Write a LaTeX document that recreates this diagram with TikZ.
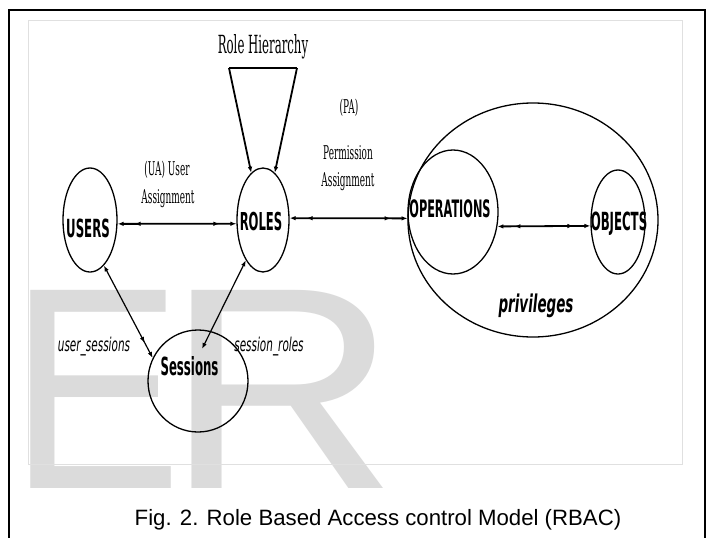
\documentclass[tikz,border=0pt]{standalone}
\usepackage{fontspec}
\setmainfont{Liberation Sans}
\newfontfamily\sanscond[FakeStretch=0.47]{DejaVu Sans}
\newfontfamily\itcond[FakeStretch=0.55]{DejaVu Sans}
\newfontfamily\serifcond[FakeStretch=0.47]{DejaVu Serif}
\usetikzlibrary{shapes.geometric,arrows.meta,calc}
\tikzset{
  stip/.tip={Latex[length=6pt,width=4.5pt]},
  dbl/.tip={Latex[length=6pt,width=4.5pt,sep=11pt]Latex[length=6pt,width=4.5pt]},
}
\begin{document}
\begin{tikzpicture}[x=1pt,y=-1pt,
  ell/.style={draw, ellipse, line width=1.3pt, inner sep=0pt},
  lab/.style={font=\sanscond\bfseries\fontsize{25}{25}\selectfont, inner sep=0pt, anchor=base},
  ser/.style={font=\serifcond\fontsize{19}{19}\selectfont, inner sep=0pt, anchor=base},
  ital/.style={font=\itcond\itshape\fontsize{19}{19}\selectfont, inner sep=0pt, anchor=base},
  wmark/.style={font=\fontsize{288}{288}\selectfont, text=black!14, anchor=base west, inner sep=0pt},
  conn/.style={line width=1.8pt},
  thinconn/.style={line width=1.2pt}]
\useasboundingbox (0,0) rectangle (710,538);
\fill[white] (0,0) rectangle (710,538);
% watermark
\node[wmark, xscale=0.9] (wme) at (9,488) {E};
\node[wmark, xscale=1.12] (wmr) at (165,488) {R};
% frames
\draw[black!12, line width=1pt] (28,20) rectangle (682,464);
\draw[line width=2pt] (9,538) -- (9,10) -- (705,10) -- (705,538);
% nodes
\node[ell, minimum width=54pt, minimum height=104pt] (users) at (90,220) {};
\node[ell, minimum width=52pt, minimum height=104pt] (roles) at (263,220) {};
\node[ell, minimum width=100pt, minimum height=102pt] (sessions) at (198,381) {};
\node[ell, minimum width=250pt, minimum height=234pt] (privs) at (533,220) {};
\node[ell, minimum width=90pt, minimum height=124pt] (ops) at (453,212) {};
\node[ell, minimum width=54pt, minimum height=104pt] (objs) at (618,222) {};
\node[lab] (tusers) at (88,237) {USERS};
\node[lab, font=\sanscond\bfseries\fontsize{24.7}{24.7}\selectfont] (troles) at (261,230) {ROLES};
\node[lab, font=\sanscond\bfseries\fontsize{24}{24}\selectfont] (tops) at (450,217) {OPERATIONS};
\node[lab] (tobjs) at (619,230) {OBJECTS};
\node[lab] (tsess) at (189.5,375) {Sessions};
\node[ital, font=\itcond\bfseries\itshape\fontsize{24.5}{24.5}\selectfont] (tpriv) at (536,312) {privileges};
\node[ser, font=\serifcond\fontsize{25}{25}\selectfont] (trh) at (263,53) {Role Hierarchy};
\node[ser] (tua1) at (167,175) {(UA) User};
\node[ser] (tua2) at (168,203) {Assignment};
\node[ser] (tpa0) at (349,113) {(PA)};
\node[ser] (tpa1) at (348,159) {Permission};
\node[ser] (tpa2) at (348,186) {Assignment};
\node[ital] (tus) at (94,351) {user\_sessions};
\node[ital] (tsr) at (269,351) {session\_roles};
% connectors
\coordinate (rhl) at (229,68);
\coordinate (rhr) at (297,68);
\coordinate (srend) at (202,349);
\draw[conn] (rhl) -- (rhr);
\draw[conn,-stip] (rhl) -- (roles.104);
\draw[conn,-stip] (rhr) -- (roles.76);
\draw[conn,dbl-dbl] (users.-8) -- (roles.188);
\draw[conn,dbl-dbl] (roles.4) -- (ops.188);
\draw[conn,dbl-dbl] (ops.-18) -- (objs.188);
\draw[thinconn,stip-dbl] (users.-73) -- (sessions.153);
\draw[thinconn,stip-stip] (roles.-113) -- (srend);
% caption
\node[font=\fontsize{22.2}{22.2}\selectfont, inner sep=0pt] (cap) at (378,520) {Fig. 2. Role Based Access control Model (RBAC)};
\end{tikzpicture}
\end{document}
